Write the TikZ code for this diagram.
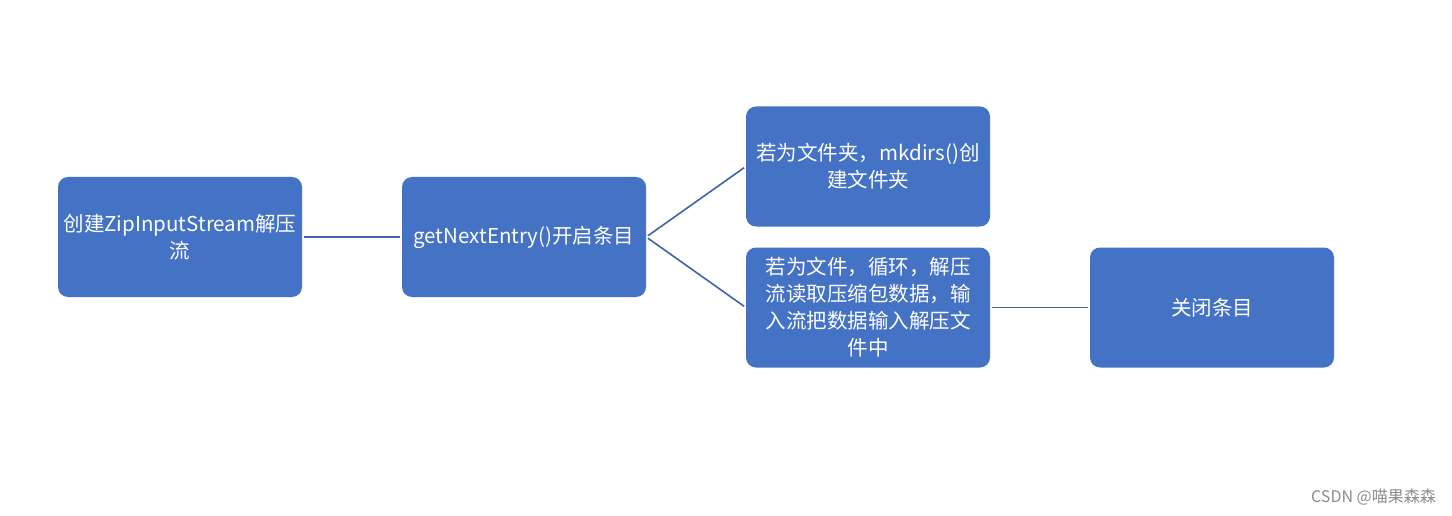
\documentclass[tikz,border=0pt]{standalone}
\usepackage{fontspec}
\setmainfont{Noto Sans CJK SC}
\definecolor{boxblue}{HTML}{4472C4}
\definecolor{lineblue}{HTML}{3F63AD}
\tikzset{
	stepbox/.style={fill=boxblue,rounded corners=10pt,minimum width=244pt,minimum height=120pt,
		text=white,align=center,inner sep=1pt,font=\fontsize{20.5}{27}\selectfont},
	link/.style={draw=lineblue,line width=1.6pt,shorten <=2pt,shorten >=2pt}
}
\begin{document}
\begin{tikzpicture}[x=1pt,y=-1pt]
			\useasboundingbox[fill=white] (0,0) rectangle (1452,516);
			\node[stepbox] (create) at (180,237) {创建ZipInputStream解压\\流};
			\node[stepbox] (entry) at (524,237) {getNextEntry()开启条目};
			\node[stepbox] (folder) at (868,166.5) {若为文件夹，mkdirs()创\\建文件夹};
			\node[stepbox] (file) at (868,307.5) {若为文件，循环，解压\\流读取压缩包数据，输\\入流把数据输入解压文\\件中};
			\node[stepbox] (close) at (1212,307.5) {关闭条目};
			\draw[link] (create)--(entry);
			\draw[link] (entry.east)--(folder.west);
			\draw[link] (entry.east)--(file.west);
			\draw[link] (file)--(close);
			\node[anchor=south east,text=black!45,inner sep=0pt,font=\fontsize{16}{16}\selectfont] (mark) at (1436,505) {CSDN @喵果森森};
\end{tikzpicture}
\end{document}
